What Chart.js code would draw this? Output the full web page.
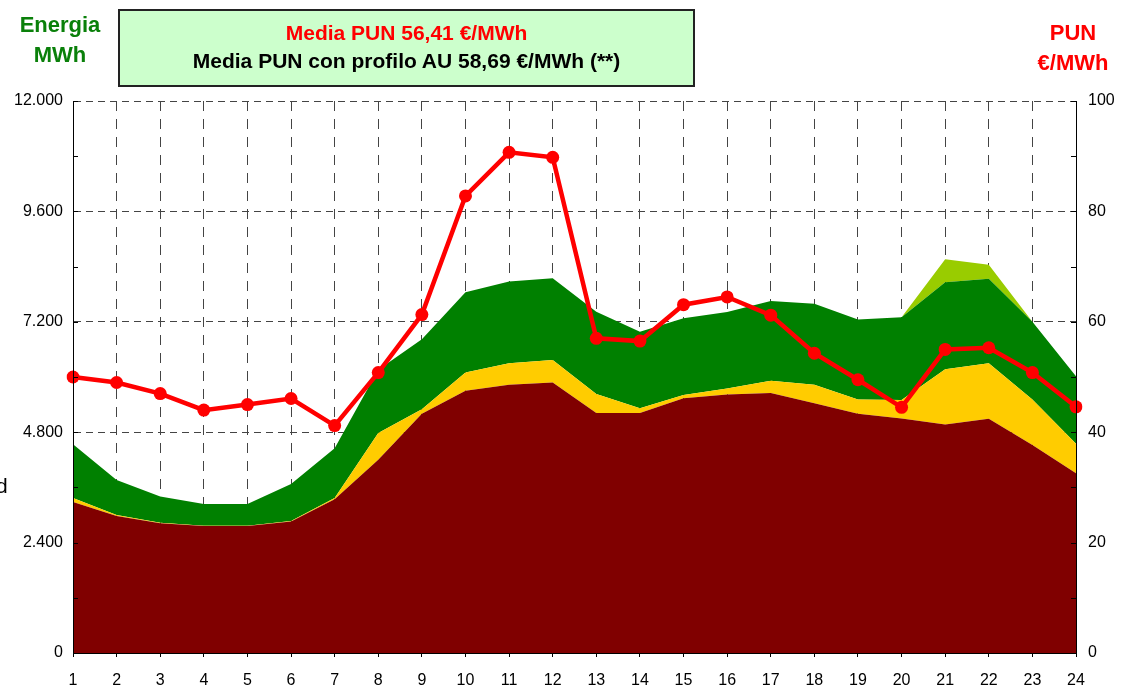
<!DOCTYPE html>
<html>
<head>
<meta charset="utf-8">
<script src="https://cdn.jsdelivr.net/npm/chart.js@4.4.0/dist/chart.umd.min.js"></script>
<style>
  body { margin: 0; background: #fff; font-family: Arial, "Liberation Sans", sans-serif; }
  #wrap { position: relative; width: 1123px; height: 688px; overflow: hidden; }
  #chartPun { position: absolute; left: 0; top: 0; }
  .lbl { position: absolute; font-weight: bold; text-align: center; white-space: nowrap; }
  #box { position: absolute; left: 118px; top: 9px; width: 577px; height: 78px; box-sizing: border-box;
         border: 2px solid #222; background: #ccffcc; }
</style>
</head>
<body>
<div id="wrap">
  <canvas id="chartPun" width="1123" height="688"></canvas>
  <div id="box"></div>
  <div class="lbl" style="left:118px;width:577px;top:21px;font-size:21px;color:#ff0000;">Media PUN 56,41 €/MWh</div>
  <div class="lbl" style="left:118px;width:577px;top:49px;font-size:21px;color:#000;">Media PUN con profilo AU 58,69 €/MWh (**)</div>
  <div class="lbl" style="left:0;width:120px;top:10px;font-size:22px;line-height:30px;color:#0a800a;">Energia<br>MWh</div>
  <div class="lbl" style="left:1013px;width:120px;top:18px;font-size:22px;line-height:30px;color:#ff0000;">PUN<br>€/MWh</div>
  <div style="position:absolute;left:-4px;top:474px;font-size:21px;color:#000;">d</div>
</div>
<script>
// ore del giorno
const hours = [1, 2, 3, 4, 5, 6, 7, 8, 9, 10, 11, 12, 13, 14, 15, 16, 17, 18, 19, 20, 21, 22, 23, 24];

// energia MWh (aree impilate, dal basso)
const darkRedMWh = [3280, 2980, 2820, 2760, 2760, 2860, 3340, 4200, 5200, 5700, 5830, 5880, 5220, 5220, 5540, 5620, 5650, 5430, 5200, 5100, 4970, 5090, 4520, 3910];
const yellowMWh = [90, 20, 10, 5, 5, 10, 30, 580, 100, 400, 470, 490, 410, 100, 70, 130, 270, 400, 310, 400, 1200, 1210, 990, 640];
const greenMWh = [1170, 760, 570, 475, 475, 805, 1080, 1375, 1520, 1740, 1775, 1775, 1790, 1665, 1665, 1665, 1730, 1760, 1740, 1800, 1890, 1835, 1690, 1465];
const lightGreenMWh = [0, 0, 0, 0, 0, 0, 0, 0, 0, 0, 0, 0, 0, 0, 0, 0, 0, 0, 0, 0, 500, 305, 0, 0];

// PUN €/MWh
const punEuro = [50.0, 49.0, 47.0, 44.0, 45.0, 46.1, 41.2, 50.8, 61.3, 82.8, 90.7, 89.8, 57.0, 56.5, 63.1, 64.5, 61.2, 54.3, 49.5, 44.5, 55.0, 55.3, 50.8, 44.6];

// etichette assi
const energyTickLabels = ["0", "2.400", "4.800", "7.200", "9.600", "12.000"];
const punTickLabels = ["0", "20", "40", "60", "80", "100"];

// tacche interne sugli assi verticali
const innerTicks = {
  id: "innerTicks",
  afterDraw: function (chart) {
    var ctx = chart.ctx;
    ctx.save();
    ctx.strokeStyle = "#000";
    ctx.lineWidth = 1;
    [["y", 1], ["y1", -1]].forEach(function (pair) {
      var scale = chart.scales[pair[0]];
      var x = pair[1] > 0 ? scale.right : scale.left;
      scale.ticks.forEach(function (t, i) {
        var y = Math.round(scale.getPixelForTick(i)) + 0.5;
        ctx.beginPath();
        ctx.moveTo(x, y);
        ctx.lineTo(x + pair[1] * 5, y);
        ctx.stroke();
      });
    });
    ctx.restore();
  }
};

function area(data, color, fill) {
  return {
    type: "line",
    data: data,
    yAxisID: "y",
    backgroundColor: color,
    borderColor: color,
    borderWidth: 0,
    pointRadius: 0,
    tension: 0,
    fill: fill
  };
}

const gridColor = "#444";
const tickFont = { family: "Arial, 'Liberation Sans', sans-serif", size: 16 };

new Chart(document.getElementById("chartPun"), {
  type: "line",
  data: {
    labels: hours,
    datasets: [
      {
        type: "line",
        data: punEuro,
        yAxisID: "y1",
        borderColor: "#ff0000",
        backgroundColor: "#ff0000",
        borderWidth: 4.5,
        pointRadius: 6.5,
        pointBorderWidth: 0,
        pointBackgroundColor: "#ff0000",
        tension: 0,
        fill: false
      },
      area(darkRedMWh, "#800000", "origin"),
      area(yellowMWh, "#ffcc00", "-1"),
      area(greenMWh, "#008000", "-1"),
      area(lightGreenMWh, "#99cc00", "-1")
    ]
  },
  options: {
    responsive: false,
    animation: false,
    devicePixelRatio: 1,
    layout: { padding: { top: 101, left: 0, right: 0, bottom: 0 } },
    plugins: { legend: { display: false }, tooltip: { enabled: false } },
    scales: {
      x: {
        type: "category",
        offset: false,
        afterFit: function (scale) { scale.height = 35; },
        grid: { color: gridColor, tickColor: "#000", tickLength: 4, tickBorderDash: [] },
        border: { color: "#000", width: 1, dash: [10, 8], z: 1 },
        ticks: { color: "#000", font: tickFont, padding: 14, maxRotation: 0, autoSkip: false }
      },
      y: {
        position: "left",
        stacked: true,
        min: 0,
        max: 12000,
        afterFit: function (scale) { scale.width = 73; },
        afterBuildTicks: function (scale) {
          scale.ticks = [];
          for (var v = 0; v <= 12000; v += 1200) scale.ticks.push({ value: v });
        },
        grid: {
          drawTicks: false,
          color: function (c) { return c.tick && c.tick.value % 2400 === 0 ? gridColor : "transparent"; }
        },
        border: { color: "#000", width: 1, dash: [7, 5], z: 1 },
        ticks: {
          color: "#000",
          font: tickFont,
          padding: 10,
          callback: function (v) { return v % 2400 === 0 ? energyTickLabels[v / 2400] : ""; }
        }
      },
      y1: {
        position: "right",
        min: 0,
        max: 100,
        afterFit: function (scale) { scale.width = 47; },
        afterBuildTicks: function (scale) {
          scale.ticks = [];
          for (var v = 0; v <= 100; v += 10) scale.ticks.push({ value: v });
        },
        grid: { drawOnChartArea: false, drawTicks: false },
        border: { color: "#000", width: 1, z: 1 },
        ticks: {
          color: "#000",
          font: tickFont,
          padding: 12,
          callback: function (v) { return v % 20 === 0 ? punTickLabels[v / 20] : ""; }
        }
      }
    }
  },
  plugins: [innerTicks]
});
</script>
</body>
</html>
